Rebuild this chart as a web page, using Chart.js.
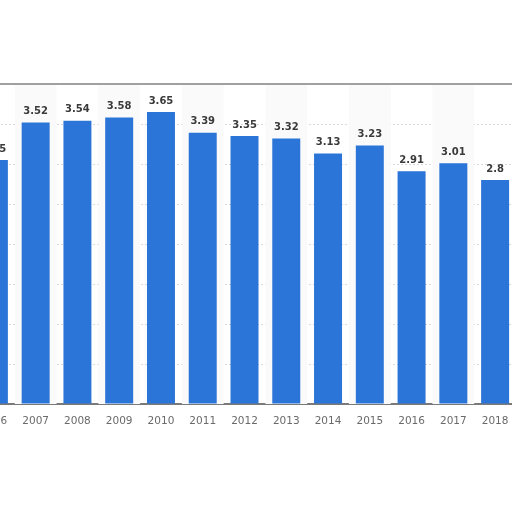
<!DOCTYPE html>
<html>
<head>
<meta charset="utf-8">
<script src="https://cdn.jsdelivr.net/npm/chart.js@4"></script>
<style>
  html, body { margin: 0; padding: 0; background: #fff; overflow: hidden; }
  #wrap { position: absolute; left: -27px; top: 0; width: 543px; height: 512px; }
</style>
</head>
<body>
<div id="wrap"><canvas id="chart"></canvas></div>
<script>
// Values, one per year
const years = ['2006', '2007', '2008', '2009', '2010', '2011', '2012',
    '2013', '2014', '2015', '2016', '2017', '2018'];
const values = [3.05, 3.52, 3.54, 3.58, 3.65, 3.39, 3.35, 3.32, 3.13, 3.23, 2.91, 3.01, 2.8];
const yTicks = [0, 0.5, 1, 1.5, 2, 2.5, 3, 3.5, 4];

// faint stripes behind every other column, plus the grey frame line on top
const bandPlugin = {
    id: 'bands',
    beforeDatasetsDraw(chart) {
        const { ctx, chartArea, scales } = chart;
        const step = scales.x.getPixelForValue(1) - scales.x.getPixelForValue(0);
        ctx.save();
        ctx.fillStyle = '#fafafa';
        for (let i = 1; i < years.length; i += 2) {
            const cx = scales.x.getPixelForValue(i);
            ctx.fillRect(cx - step / 2, chartArea.top, step, chartArea.bottom - chartArea.top);
        }
        ctx.strokeStyle = '#a0a0a0';
        ctx.lineWidth = 2;
        ctx.beginPath();
        ctx.moveTo(chartArea.left, chartArea.top);
        ctx.lineTo(chartArea.right, chartArea.top);
        ctx.stroke();
        ctx.restore();
    }
};

// value labels above the bars
const labelPlugin = {
    id: 'barLabels',
    afterDatasetsDraw(chart) {
        const { ctx } = chart;
        const meta = chart.getDatasetMeta(0);
        ctx.save();
        ctx.font = 'bold 10px "DejaVu Sans"';
        ctx.fillStyle = '#3a3a3a';
        ctx.textAlign = 'center';
        ctx.textBaseline = 'middle';
        meta.data.forEach((bar, i) => {
            ctx.fillText(String(values[i]), bar.x, bar.y - 11);
        });
        ctx.restore();
    }
};

const ctx = document.getElementById('chart');
new Chart(ctx, {
    type: 'bar',
    data: {
        labels: years,
        datasets: [{
            data: values,
            backgroundColor: '#2b74d8',
            categoryPercentage: 1,
            barPercentage: 0.67,
        }],
    },
    options: {
        responsive: true,
        maintainAspectRatio: false,
        animation: false,
        layout: { padding: { top: 84, left: 0, right: 0, bottom: 0 } },
        plugins: {
            legend: { display: false },
            tooltip: { enabled: false },
        },
        scales: {
            x: {
                grid: { display: false },
                border: { color: '#7a7a7a', width: 2 },
                ticks: {
                    color: '#6a6a6a',
                    font: { family: 'DejaVu Sans', size: 10.5 },
                    padding: 3,
                    maxRotation: 0,
                    autoSkip: false,
                },
                afterFit: (scale) => { scale.height = 108; },
            },
            y: {
                min: 0,
                max: 4,
                afterBuildTicks: (scale) => { scale.ticks = yTicks.map(v => ({ value: v })); },
                ticks: { display: false },
                grid: { color: '#d8d8d8', drawTicks: false },
                border: { display: false, dash: [2, 2] },
                afterFit: (scale) => { scale.width = 0; },
            },
        },
    },
    plugins: [bandPlugin, labelPlugin],
});
</script>
</body>
</html>
